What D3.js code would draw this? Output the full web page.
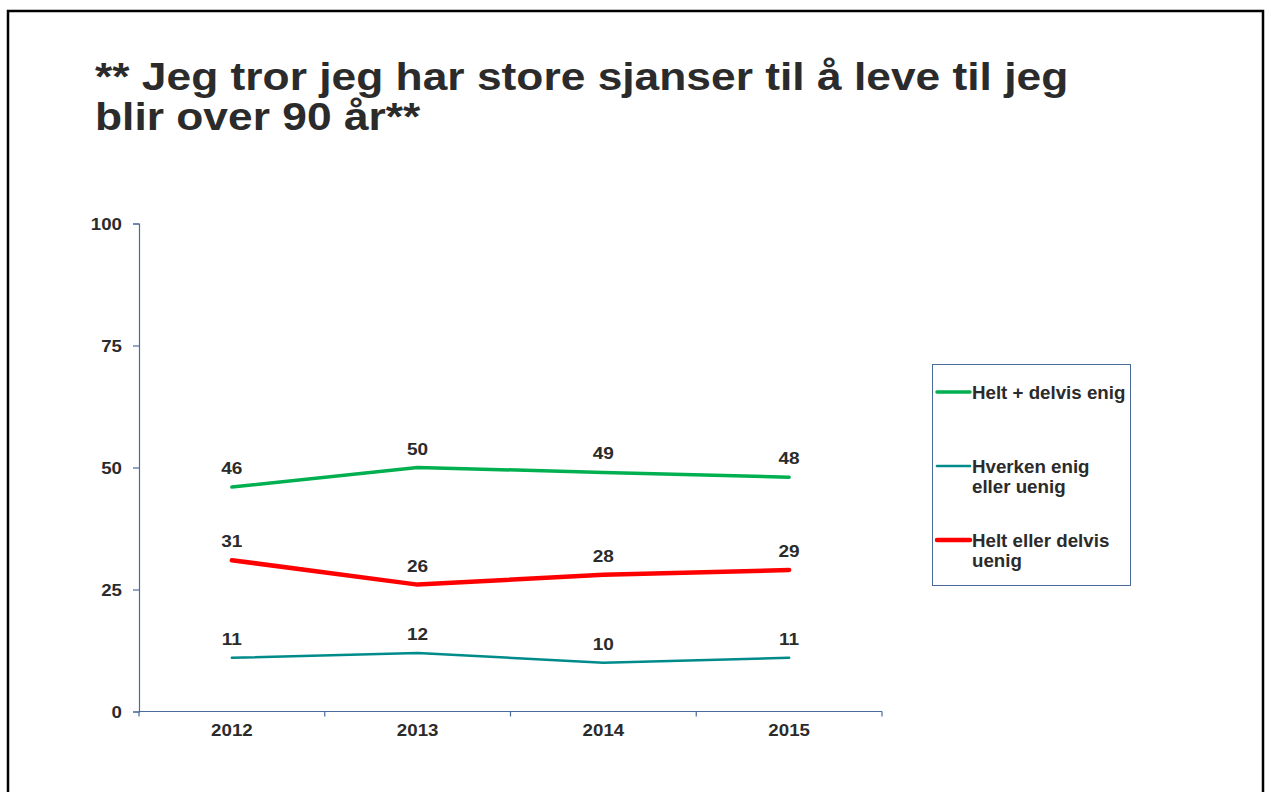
<!DOCTYPE html>
<html>
<head>
<meta charset="utf-8">
<script src="https://cdn.jsdelivr.net/npm/d3@7"></script>
<style>
  html, body { margin: 0; padding: 0; background: #fff; }
  svg { display: block; font-family: "Liberation Sans", Arial, sans-serif; }
</style>
</head>
<body>
<svg id="chart" width="1270" height="792"></svg>
<script>
// Survey answers by year (percent)
const years = ["2012", "2013", "2014", "2015"];
const agree = [46, 50, 49, 48];
const neutral = [11, 12, 10, 11];
const disagree = [31, 26, 28, 29];
const yTicks = [0, 25, 50, 75, 100];
const seriesNames = ["Helt + delvis enig", "Hverken enig eller uenig", "Helt eller delvis uenig"];
const titleLines = ["** Jeg tror jeg har store sjanser til å leve til jeg", "blir over 90 år**"];

const series = [
  { name: seriesNames[0], values: agree, color: "#00b050", width: 3.5, legendLines: ["Helt + delvis enig"] },
  { name: seriesNames[1], values: neutral, color: "#008b8b", width: 2.6, legendLines: ["Hverken enig", "eller uenig"] },
  { name: seriesNames[2], values: disagree, color: "#ff0000", width: 4.5, legendLines: ["Helt eller delvis", "uenig"] }
];

const svg = d3.select("#chart");
const axisColor = "#4a6a9c";
const textColor = "#2b2b2b";
const labelSize = 17;
const labelStretch = 1.1;

// Wide bold text: placed with a translate, then stretched horizontally
function wideText(parent, x, y, str, opts) {
  const t = parent.append("text")
    .attr("transform", `translate(${x},${y}) scale(${opts.stretch},1)`)
    .attr("fill", textColor)
    .attr("font-size", opts.size)
    .attr("font-weight", "bold")
    .attr("text-anchor", opts.anchor || "start");
  if (Array.isArray(str)) {
    t.selectAll("tspan").data(str).join("tspan")
      .attr("x", 0)
      .attr("y", (d, i) => i * opts.lineHeight)
      .text(d => d);
  } else {
    t.text(str);
  }
  return t;
}

// Slide frame (open at the bottom)
svg.append("path")
  .attr("d", "M8,792 L8,11 L1263,11 L1263,792")
  .attr("fill", "none")
  .attr("stroke", "#000")
  .attr("stroke-width", 2.5);

// Title
wideText(svg, 95, 90, titleLines, { size: 39, stretch: 1.137, lineHeight: 40 });

// Plot area
const x0 = 139, x1 = 882, yBottom = 711.5, yTop = 223.5;
const x = d3.scaleBand().domain(years).range([x0, x1]);
const y = d3.scaleLinear().domain([0, 100]).range([yBottom, yTop]);

// Y axis
const yAxis = svg.append("g")
  .attr("transform", `translate(${x0},0)`)
  .call(d3.axisLeft(y).tickValues(yTicks).tickSize(6));
yAxis.select(".domain").attr("stroke", axisColor).attr("stroke-width", 1.2);
yAxis.selectAll(".tick line").attr("stroke", axisColor).attr("stroke-width", 1.2);
yAxis.selectAll(".tick text").remove();
yAxis.selectAll(".tick").each(function(d) {
  wideText(d3.select(this), -17, 6, String(d), { size: labelSize, stretch: labelStretch, anchor: "end" });
});

// X axis with ticks between categories
const xAxisG = svg.append("g").attr("transform", `translate(0,${yBottom})`);
xAxisG.append("line")
  .attr("x1", x0).attr("x2", x1)
  .attr("stroke", axisColor).attr("stroke-width", 1.2);
const boundaries = years.map(d => x(d)).concat([x1]);
xAxisG.selectAll("line.tick")
  .data(boundaries)
  .join("line")
  .attr("class", "tick")
  .attr("x1", d => d).attr("x2", d => d)
  .attr("y1", 0).attr("y2", 5)
  .attr("stroke", axisColor).attr("stroke-width", 1.2);
years.forEach(d => {
  wideText(xAxisG, x(d) + x.bandwidth() / 2, 24, d, { size: labelSize, stretch: labelStretch, anchor: "middle" });
});

// Lines
const cx = i => x(years[i]) + x.bandwidth() / 2;
const line = d3.line().x((d, i) => cx(i)).y(d => y(d));

series.forEach(s => {
  svg.append("path")
    .datum(s.values)
    .attr("d", line)
    .attr("fill", "none")
    .attr("stroke", s.color)
    .attr("stroke-width", s.width)
    .attr("stroke-linecap", "round")
    .attr("stroke-linejoin", "round");

  const lg = svg.append("g");
  s.values.forEach((v, i) => {
    wideText(lg, cx(i), y(v) - 13, String(v), { size: labelSize, stretch: 1.12, anchor: "middle" });
  });
});

// Legend
const legend = svg.append("g");
legend.append("rect")
  .attr("x", 932.5).attr("y", 364.5)
  .attr("width", 198).attr("height", 221)
  .attr("fill", "#fff")
  .attr("stroke", axisColor)
  .attr("stroke-width", 1);

const legendY = [392, 466, 540];
series.forEach((s, i) => {
  const g = legend.append("g").attr("transform", `translate(0,${legendY[i]})`);
  g.append("line")
    .attr("x1", 937).attr("x2", 970)
    .attr("stroke", s.color)
    .attr("stroke-width", s.width)
    .attr("stroke-linecap", "round");
  wideText(g, 972, 6.5, s.legendLines, { size: 17.5, stretch: 1.07, lineHeight: 20.5 });
});
</script>
</body>
</html>
